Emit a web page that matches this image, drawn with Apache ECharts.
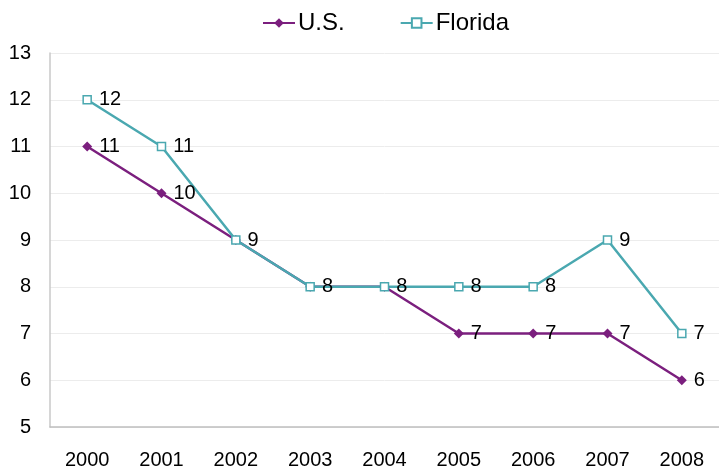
<!DOCTYPE html>
<html><head><meta charset="utf-8">
<script src="https://cdn.jsdelivr.net/npm/echarts@6/dist/echarts.min.js"></script>
<style>html,body{margin:0;padding:0;background:#fff}#c{width:719px;height:472px}</style>
</head><body><div id="c"></div>
<script>
const years = ['2000','2001','2002','2003','2004','2005','2006','2007','2008'];
const usValues = [11,10,9,8,8,7,7,7,6];
const floridaValues = [12,11,9,8,8,8,8,9,7];
const chart = echarts.init(document.getElementById('c'));
const font = 'Liberation Sans, Arial, sans-serif';
const lbl = {show:true, position:'right', distance:7, color:'#000', fontSize:20, fontFamily:font};
chart.setOption({
  animation:false,
  textStyle:{fontFamily:font},
  legend:{top:6, left:257, itemGap:55, itemWidth:32, itemHeight:12,
    textStyle:{fontSize:24, color:'#000', padding:[0,0,0,-2]},
    data:['U.S.','Florida']},
  grid:{left:50, right:-3, top:53, bottom:45, containLabel:false},
  xAxis:{type:'category', data:years, boundaryGap:true,
    axisLine:{lineStyle:{color:'#bfbfbf', width:1.5}},
    axisTick:{show:false},
    axisLabel:{color:'#000', fontSize:20, margin:23}},
  yAxis:{type:'value', min:5, max:13, interval:1,
    axisLine:{show:true, lineStyle:{color:'#c8c8c8', width:1.5}},
    axisTick:{show:false},
    axisLabel:{color:'#000', fontSize:20, margin:19},
    splitLine:{lineStyle:{color:'#ececec', width:1}}},
  series:[
    {name:'U.S.', type:'line', data:usValues, symbol:'diamond', symbolSize:10,
     itemStyle:{color:'#7b1f7e'}, lineStyle:{color:'#7b1f7e', width:2.5},
     label:Object.assign({}, lbl, {formatter: p => usValues[p.dataIndex] === floridaValues[p.dataIndex] ? '' : String(p.value)})},
    {name:'Florida', type:'line', data:floridaValues, symbol:'rect', symbolSize:8,
     itemStyle:{color:'#fff', borderColor:'#4aa8b0', borderWidth:1.5},
     lineStyle:{color:'#4aa8b0', width:2.5}, label:lbl}
  ]
});
</script></body></html>
